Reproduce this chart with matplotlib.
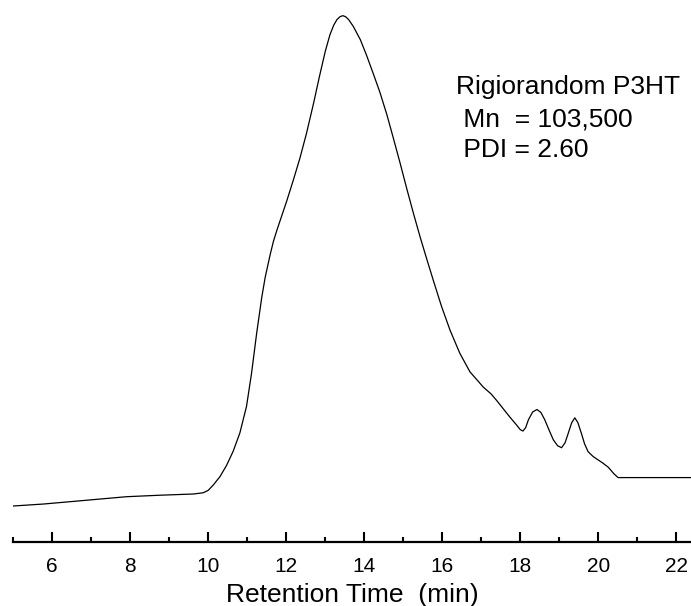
import numpy as np
import matplotlib
matplotlib.use("Agg")
import matplotlib.pyplot as plt
from matplotlib.ticker import MultipleLocator

# GPC trace (retention time in min, normalised detector signal)
retention_time = [
    5.00, 5.77, 6.63, 7.48, 7.91, 8.76, 9.62, 9.87, 10.00, 10.13, 10.30, 10.47,
    10.64, 10.81, 10.98, 11.11, 11.24, 11.37, 11.46, 11.59, 11.67, 11.76, 11.84,
    12.01, 12.18, 12.35, 12.52, 12.70, 12.86, 13.00, 13.12, 13.22, 13.30, 13.38,
    13.45, 13.52, 13.60, 13.72, 13.90, 14.06, 14.23, 14.40, 14.58, 14.75, 14.92,
    15.09, 15.26, 15.43, 15.60, 15.77, 15.98, 16.20, 16.45, 16.71, 17.05, 17.25,
    17.39, 17.55, 17.74, 17.90, 18.00, 18.07, 18.14, 18.21, 18.32, 18.43, 18.53,
    18.63, 18.74, 18.85, 18.96, 19.06, 19.15, 19.23, 19.32, 19.40, 19.48, 19.57,
    19.65, 19.74, 19.87, 20.00, 20.13, 20.26, 20.40, 20.51, 21.07, 22.38,
]
signal = [
    0.000, 0.004, 0.010, 0.016, 0.019, 0.022, 0.0245, 0.027, 0.032, 0.043, 0.060, 0.083,
    0.112, 0.149, 0.203, 0.271, 0.352, 0.425, 0.467, 0.514, 0.540, 0.563, 0.582,
    0.622, 0.665, 0.710, 0.761, 0.822, 0.880, 0.928, 0.962, 0.982, 0.993, 0.999,
    1.001, 0.999, 0.993, 0.979, 0.952, 0.920, 0.883, 0.845, 0.799, 0.750, 0.700,
    0.648, 0.598, 0.550, 0.505, 0.461, 0.408, 0.359, 0.312, 0.274, 0.243, 0.229,
    0.216, 0.200, 0.181, 0.166, 0.156, 0.153, 0.160, 0.176, 0.192, 0.197, 0.191,
    0.176, 0.155, 0.135, 0.123, 0.119, 0.129, 0.148, 0.170, 0.180, 0.170, 0.148,
    0.127, 0.111, 0.101, 0.094, 0.087, 0.079, 0.066, 0.058, 0.058, 0.058,
]

x_major = np.arange(6, 23, 2)

annotation_lines = ["Rigiorandom P3HT", " Mn  = 103,500", " PDI = 2.60"]

plt.rcParams['font.family'] = ['Liberation Sans', 'DejaVu Sans']

fig = plt.figure(figsize=(6.91, 6.06), dpi=100)
W, H = 691, 606
ax = fig.add_axes([13.3 / W, (H - 542) / H, (W - 13.3) / W, 542 / H])

ax.plot(retention_time, signal, color='black', lw=0.9)
ax.set_xlim(5, 22.38)
ax.set_ylim(-0.0735, 1.033)

for side in ['top', 'right', 'left']:
    ax.spines[side].set_visible(False)
ax.spines['bottom'].set_linewidth(1.6)
ax.set_yticks([])

ax.set_xticks(x_major)
ax.xaxis.set_minor_locator(MultipleLocator(1))
ax.tick_params(axis='x', which='major', direction='in', length=7.5, width=1.5,
               labelsize=15, pad=11)
ax.tick_params(axis='x', which='minor', direction='in', length=3.8, width=1.5)
ax.set_xlabel("Retention Time  (min)", fontsize=19, labelpad=5)

# text block, baselines
baselines = [94, 126, 157]
for line, yb in zip(annotation_lines, baselines):
    fig.text(456 / W, 1 - yb / H, line, fontsize=19, va='baseline', ha='left')

fig.savefig("out.png", dpi=100)
